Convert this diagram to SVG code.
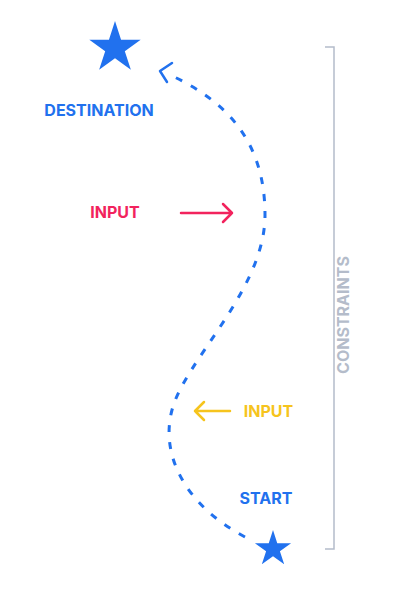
<svg xmlns="http://www.w3.org/2000/svg" width="403" height="593" viewBox="0 0 403 593">
<style>
.lbl{font-family:Inter,"Liberation Sans",sans-serif;font-weight:700;font-size:16px}
.blue{fill:#2171ee}
.red{fill:#f2235d}
.yel{fill:#f6c41d}
.arr{fill:none;stroke-width:2.5;stroke-linecap:round;stroke-linejoin:round}
</style>
<defs>
<polygon id="star" points="0,-1 0.2245,-0.309 0.9511,-0.309 0.3633,0.118 0.5878,0.809 0,0.382 -0.5878,0.809 -0.3633,0.118 -0.9511,-0.309 -0.2245,-0.309"/>
</defs>
<rect width="403" height="593" fill="#fff"/>
<g id="destination">
<use href="#star" transform="translate(115,48) scale(27)" class="blue"/>
<text x="99" y="116" class="lbl blue" text-anchor="middle">DESTINATION</text>
</g>
<g id="start">
<use href="#star" transform="translate(273,549) scale(19)" class="blue"/>
<text x="266" y="504" class="lbl blue" text-anchor="middle">START</text>
</g>
<g id="input-red">
<text x="115" y="218" class="lbl red" text-anchor="middle">INPUT</text>
<path d="M181 213 H232 M223 204 L232 213 L223 222" class="arr" stroke="#f2235d"/>
</g>
<g id="input-yellow">
<text x="268.5" y="417" class="lbl yel" text-anchor="middle">INPUT</text>
<path d="M230 411 H195 M204 402 L195 411 L204 420" class="arr" stroke="#f6c41d"/>
</g>
<g id="constraints">
<path d="M325 47 H334 V549 H325" fill="none" stroke="#b4bcca" stroke-width="1.5"/>
<text transform="translate(349,315) rotate(-90)" text-anchor="middle" font-family="Inter,'Liberation Sans',sans-serif" font-weight="700" font-size="16" fill="#b4bcca">CONSTRAINTS</text>
</g>
<g id="connectors">
<path d="M245 537 C185 505, 160 455, 172 410 C185 360, 265 290, 265 215 C265 140, 225 100, 168 74" fill="none" stroke="#2171ee" stroke-width="3" stroke-dasharray="7 10" stroke-linecap="butt"/>
<path d="M172 63 L160 71 L167 82" class="arr" stroke="#2171ee" stroke-width="3"/>
</g>
</svg>
